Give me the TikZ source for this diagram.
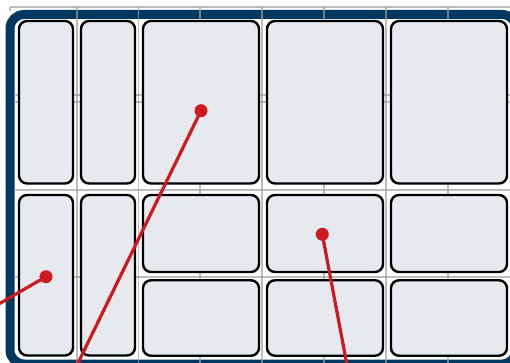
\documentclass[tikz,border=0pt]{standalone}
\usepackage{xcolor}
\definecolor{framebl}{RGB}{0,56,98}
\definecolor{binfill}{RGB}{230,233,238}
\definecolor{pinred}{RGB}{204,26,32}
\definecolor{gridgr}{RGB}{160,160,160}
\tikzset{
  bin/.style={draw=black, line width=2.4pt, rounded corners=8pt, fill=binfill, inner sep=0pt},
  pindot/.style={circle, fill=pinred, inner sep=0pt, minimum size=13pt},
  pinline/.style={pinred, line width=3.2pt},
  gridline/.style={gridgr, line width=1.3pt, opacity=0.7}
}

\begin{document}
\begin{tikzpicture}[x=1pt,y=-1pt]
  \useasboundingbox (0,0) rectangle (510,363);
  \clip (0,0) rectangle (510,363);
  % outer frame
  \draw[framebl, line width=9pt, rounded corners=14pt] (10,14.5) rectangle (516,364);
  % grid
  \draw[gridline] (10,7) -- (10,11);
  \foreach \x in {77,138.5,200,262,324,386,448}
    \draw[gridline] (\x,7) -- (\x,363);
  \draw[gridline] (10,7) -- (510,7);
  \foreach \y in {95,102,190,277}
    \draw[gridline] (14,\y) -- (510,\y);
  % bins, top row
  \node[bin, minimum width=54pt, minimum height=162.5pt] (aTop) at (46,102.25) {};
  \node[bin, minimum width=54pt, minimum height=162.5pt] (bTop) at (108,102.25) {};
  \node[bin, minimum width=116pt, minimum height=162.5pt] (cTop) at (201,102.25) {};
  \node[bin, minimum width=116pt, minimum height=162.5pt] (dTop) at (325,102.25) {};
  \node[bin, minimum width=116pt, minimum height=162.5pt] (eTop) at (449,102.25) {};
  % bins, bottom rows
  \node[bin, minimum width=54pt, minimum height=160.5pt] (aLow) at (46,275.25) {};
  \node[bin, minimum width=54pt, minimum height=160.5pt] (bLow) at (108,275.25) {};
  \foreach \n/\x in {c/201,d/325,e/449} {
    \node[bin, minimum width=116pt, minimum height=77pt] (\n Up) at (\x,233.5) {};
    \node[bin, minimum width=116pt, minimum height=75.5pt] (\n Dn) at (\x,318) {};
  }
  % pins
  \node[pindot] (pinC) at (201,110.7) {};
  \node[pindot] (pinA) at (46,276.7) {};
  \node[pindot] (pinD) at (322.3,234.3) {};
  \coordinate (pinCend) at (60,400);
  \coordinate (pinAend) at (-30,320.6);
  \coordinate (pinDend) at (353.6,400);
  \draw[pinline] (pinC.center) -- (pinCend);
  \draw[pinline] (pinA.center) -- (pinAend);
  \draw[pinline] (pinD.center) -- (pinDend);
\end{tikzpicture}
\end{document}
